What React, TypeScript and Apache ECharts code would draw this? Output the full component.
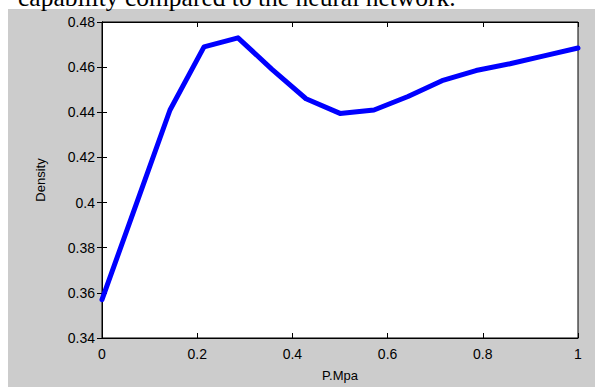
import React, { useEffect, useRef } from "react";
import * as echarts from "echarts";

const pressure = [0, 1 / 14, 2 / 14, 3 / 14, 4 / 14, 5 / 14, 6 / 14, 7 / 14, 8 / 14, 9 / 14, 10 / 14, 11 / 14, 12 / 14, 13 / 14, 1];
const density = [0.357, 0.399, 0.441, 0.469, 0.473, 0.459, 0.446, 0.4395, 0.441, 0.447, 0.454, 0.4585, 0.4615, 0.465, 0.4685];
const captionText = "capability compared to the neural network.";
const xName = "P.Mpa";
const yName = "Density";

const fmt = (v: number) => String(parseFloat(v.toFixed(2)));

export default function App() {
  const ref = useRef<HTMLDivElement>(null);
  useEffect(() => {
    if (!ref.current) return;
    const chart = echarts.init(ref.current, undefined, { renderer: "svg" });
    const font = "'Liberation Sans', Arial, sans-serif";
    const tickLabel = { color: "#000", fontFamily: font, fontSize: 14 };
    const nameLabel = { color: "#000", fontFamily: font, fontSize: 13 };
    chart.setOption({
      animation: false,
      backgroundColor: "#ffffff",
      graphic: [
        { type: "rect", left: 8, top: 9, shape: { x: 0, y: 0, width: 587, height: 378 }, style: { fill: "#cccccc" }, z: -10 },
        {
          type: "text",
          x: 18,
          y: -3,
          style: {
            text: captionText,
            font: "25.5px 'Liberation Serif', 'Times New Roman', serif",
            fill: "#000",
            verticalAlign: "middle",
            align: "left",
          },
          z: -5,
        },
      ],
      grid: { left: 102, top: 22, width: 476, height: 316, show: true, backgroundColor: "#ffffff", borderColor: "#000", borderWidth: 1 },
      xAxis: [
        {
          type: "value",
          min: 0,
          max: 1,
          interval: 0.2,
          name: xName,
          nameLocation: "middle",
          nameGap: 31,
          nameTextStyle: nameLabel,
          axisLine: { show: true, lineStyle: { color: "#000", width: 1 } },
          axisTick: { show: true, inside: true, length: 5, lineStyle: { color: "#000" } },
          axisLabel: { ...tickLabel, margin: 9, formatter: fmt },
          splitLine: { show: false },
        },
        {
          type: "value",
          position: "top",
          min: 0,
          max: 1,
          interval: 0.2,
          axisLine: { show: true, lineStyle: { color: "#000", width: 1 } },
          axisTick: { show: true, inside: true, length: 5, lineStyle: { color: "#000" } },
          axisLabel: { show: false },
          splitLine: { show: false },
        },
      ],
      yAxis: [
        {
          type: "value",
          min: 0.34,
          max: 0.48,
          interval: 0.02,
          name: yName,
          nameLocation: "middle",
          nameGap: 55,
          nameTextStyle: nameLabel,
          axisLine: { show: true, lineStyle: { color: "#000", width: 1 } },
          axisTick: { show: true, inside: true, length: 5, lineStyle: { color: "#000" } },
          axisLabel: { ...tickLabel, margin: 7, formatter: fmt },
          splitLine: { show: false },
        },
        {
          type: "value",
          position: "right",
          min: 0.34,
          max: 0.48,
          interval: 0.02,
          axisLine: { show: true, lineStyle: { color: "#000", width: 1 } },
          axisTick: { show: true, inside: true, length: 5, lineStyle: { color: "#000" } },
          axisLabel: { show: false },
          splitLine: { show: false },
        },
      ],
      series: [
        {
          type: "line",
          data: pressure.map((p, i) => [p, density[i]]),
          showSymbol: false,
          symbol: "none",
          lineStyle: { color: "#0000ff", width: 5, join: "round", cap: "round" },
          clip: true,
        },
      ],
    });
    return () => chart.dispose();
  }, []);
  return <div ref={ref} style={{ position: "absolute", left: 0, top: 0, width: 595, height: 387 }} />;
}
